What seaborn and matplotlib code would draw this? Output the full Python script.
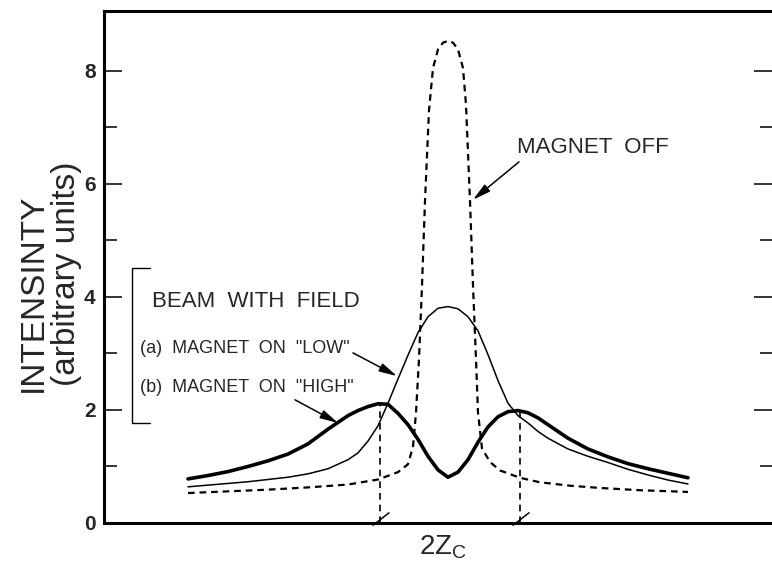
import matplotlib
matplotlib.use("Agg")
import matplotlib.pyplot as plt
import seaborn as sns

# ---------------- data ----------------
# position along the detector (arbitrary units, 0 = beam centre)
z_grid = [-5.2, -4.8, -4.4, -4.0, -3.6, -3.2, -2.8, -2.4, -2.0, -1.8, -1.6, -1.4,
          -1.2, -1.0, -0.8, -0.6, -0.4, -0.2, 0.0, 0.2, 0.4, 0.6, 0.8, 1.0,
          1.2, 1.4, 1.6, 1.8, 2.0, 2.4, 2.8, 3.2, 3.6, 4.0, 4.4, 4.8]
# (b) MAGNET ON "HIGH"  (thick line)
high_field = [0.78, 0.84, 0.91, 1.00, 1.10, 1.22, 1.40, 1.66, 1.90, 1.99, 2.06, 2.11,
              2.10, 1.94, 1.74, 1.48, 1.18, 0.94, 0.81, 0.90, 1.12, 1.43, 1.70, 1.88,
              1.97, 1.99, 1.95, 1.86, 1.74, 1.50, 1.31, 1.17, 1.05, 0.96, 0.88, 0.80]
# (a) MAGNET ON "LOW"  (thin line)
low_field = [0.64, 0.67, 0.70, 0.73, 0.77, 0.81, 0.87, 0.96, 1.12, 1.24, 1.45, 1.72,
             2.12, 2.55, 2.97, 3.37, 3.65, 3.80, 3.83, 3.79, 3.65, 3.40, 2.98, 2.52,
             2.12, 1.90, 1.77, 1.62, 1.50, 1.31, 1.18, 1.07, 0.95, 0.85, 0.76, 0.69]
# MAGNET OFF (dashed line)
z_off = [-5.2, -4.4, -3.6, -2.8, -2.0, -1.4, -1.0, -0.8, -0.7, -0.64, -0.58, -0.52,
         -0.46, -0.38, -0.30, -0.20, -0.10, 0.0, 0.10, 0.20, 0.30, 0.36, 0.44, 0.50,
         0.56, 0.60, 0.68, 0.84, 1.04, 1.44, 1.84, 2.44, 3.04, 3.84, 4.8]
magnet_off = [0.53, 0.56, 0.59, 0.63, 0.68, 0.77, 0.90, 1.04, 1.35, 1.95, 2.9, 4.2,
              5.7, 7.3, 8.05, 8.38, 8.5, 8.53, 8.5, 8.38, 8.05, 7.4, 5.7, 4.2,
              2.9, 1.95, 1.32, 1.08, 0.93, 0.80, 0.72, 0.66, 0.62, 0.58, 0.55]
# the two peaks of the "HIGH" curve that define 2Zc
zc_positions = [-1.36, 1.44]
zc_heights = [2.12, 1.99]

y_major = [0, 2, 4, 6, 8]
y_minor = [1, 3, 5, 7]
y_major_labels = ["0", "2", "4", "6", "8"]

# ---------------- style ----------------
sns.set_theme(style="white")
plt.rcParams['font.family'] = ['Liberation Sans', 'DejaVu Sans']
plt.rcParams['mathtext.fontset'] = 'custom'
plt.rcParams['mathtext.rm'] = 'Liberation Sans'

fig = plt.figure(figsize=(7.72, 5.64), dpi=100)
ax = fig.add_axes([104 / 772, 41 / 564, 668 / 772, 512 / 564])

sns.lineplot(x=z_off, y=magnet_off, ax=ax, color='black', linewidth=1.6,
             linestyle=(0, (3, 2.2)))
sns.lineplot(x=z_grid, y=low_field, ax=ax, color='black', linewidth=1.1)
sns.lineplot(x=z_grid, y=high_field, ax=ax, color='black', linewidth=2.6)

# vertical dashed guides from the HIGH peaks down to the axis
ax.vlines(zc_positions, 0, zc_heights, colors='black', linewidth=1.2,
          linestyles=[(0, (4, 3))])
for zc in zc_positions:
    ax.plot([zc - 0.14, zc + 0.18], [-0.04, 0.18], color='black', lw=1.1,
            clip_on=False)

ax.set_xlim(-6.88, 6.48)
ax.set_ylim(0, 9.06)
ax.set_xticks([])
ax.set_yticks(y_major)
ax.set_yticks(y_minor, minor=True)
ax.set_yticklabels(y_major_labels, fontsize=15, fontweight='bold')
ax.set_xlabel('')
ax.set_ylabel('')
ax.tick_params(axis='y', which='major', direction='in', length=13, width=1.1,
               left=True, right=True, pad=6, color='black')
ax.tick_params(axis='y', which='minor', direction='in', length=9, width=1.1,
               left=True, right=True, color='black')
for s in ['left', 'top', 'bottom']:
    ax.spines[s].set_linewidth(2.2)
    ax.spines[s].set_color('black')
ax.spines['right'].set_visible(False)

# axis titles
fig.text(33 / 772, 1 - 293 / 564, 'INTENSINTY', rotation=90, ha='center',
         va='center', fontsize=24)
fig.text(67 / 772, 1 - 274 / 564, '(arbitrary units)', rotation=90,
         ha='center', va='center', fontsize=24)
ax.text(-0.1, -0.55, r'2Z$_\mathregular{C}$', ha='center', va='baseline',
        fontsize=20, clip_on=False)

# legend-like annotations
ax.plot([-5.96, -6.32, -6.32, -5.96], [4.51, 4.51, 1.77, 1.77], color='black',
        lw=1.0, clip_on=False)
ax.text(-5.92, 3.82, 'BEAM  WITH  FIELD', fontsize=16, va='baseline')
ax.text(-6.16, 3.01, '(a)  MAGNET  ON  "LOW"', fontsize=13, va='baseline')
ax.text(-6.16, 2.32, '(b)  MAGNET  ON  "HIGH"', fontsize=13, va='baseline')
ax.text(1.38, 6.55, 'MAGNET  OFF', fontsize=16, va='baseline')

arrow = dict(arrowstyle='-|>,head_length=0.9,head_width=0.22', color='black',
             lw=1.1, shrinkA=0, shrinkB=0)
ax.annotate('', xy=(-1.02, 2.60), xytext=(-1.90, 3.01), arrowprops=arrow)
ax.annotate('', xy=(-2.20, 1.77), xytext=(-3.06, 2.18), arrowprops=arrow)
ax.annotate('', xy=(0.50, 5.72), xytext=(1.42, 6.39), arrowprops=arrow)

fig.savefig('out.png', dpi=100)
